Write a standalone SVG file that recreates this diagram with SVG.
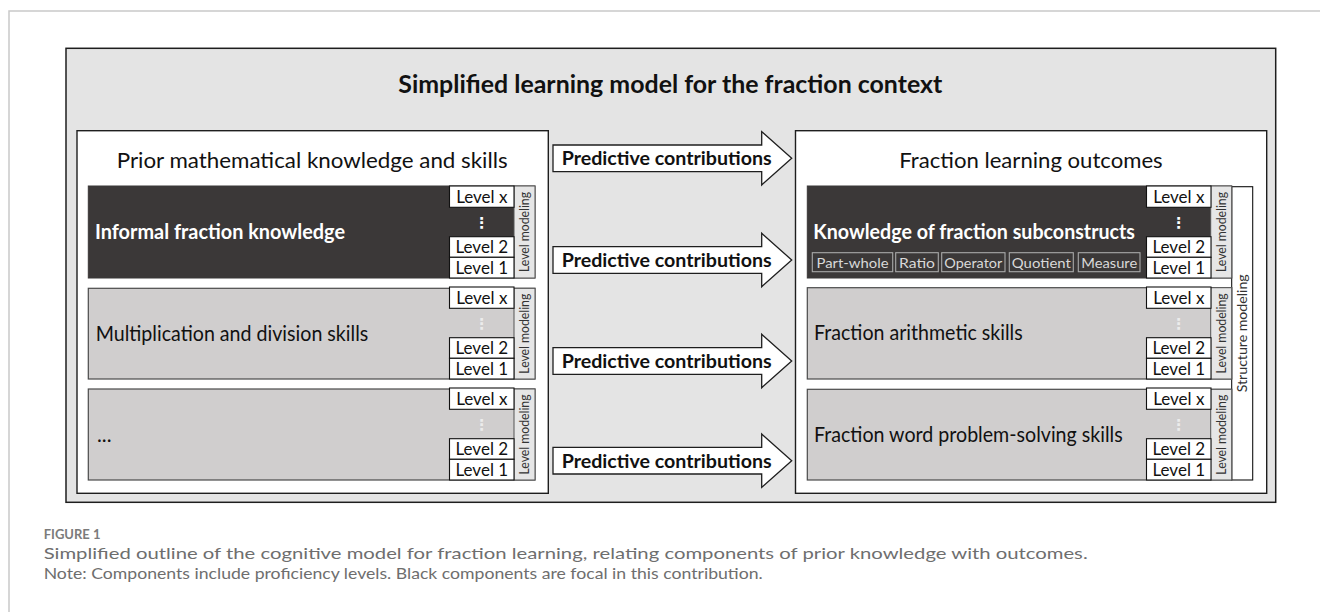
<svg xmlns="http://www.w3.org/2000/svg" width="1320" height="612" viewBox="0 0 1320 612">
  <style>
    .t { font-family: Lato, "Open Sans", "Liberation Sans", sans-serif; }
    .frame { fill: none; stroke: #c9c9c9; stroke-width: 1.5; }
    .outer { fill: #e4e4e4; stroke: #1e1e1e; stroke-width: 1.5; }
    .panel { fill: #ffffff; stroke: #1e1e1e; stroke-width: 1.4; }
    .dark { fill: #3b3838; stroke: #3b3838; stroke-width: 1; }
    .grey { fill: #d0cece; stroke: #4a4a4a; stroke-width: 1.2; }
    .lvl { fill: #ffffff; stroke: #111; stroke-width: 1.1; }
    .strip { fill: #e6e6e6; stroke: #555; stroke-width: 1; }
    .sstrip { fill: #ffffff; stroke: #111; stroke-width: 1.1; }
    .sub { fill: none; stroke: #a9a9a9; stroke-width: 1.1; }
    .arrow { fill: #ffffff; stroke: #1e1e1e; stroke-width: 1.3; stroke-linejoin: miter; }
    .title { font-size: 25px; font-weight: 700; fill: #111; }
    .head { font-size: 21.5px; fill: #111; }
    .lab { font-size: 20.5px; fill: #111; }
    .labw { font-size: 20.5px; font-weight: 700; fill: #ffffff; }
    .lv { font-size: 17px; fill: #111; text-anchor: middle; }
    .lm { font-size: 13.5px; fill: #333; text-anchor: middle; }
    .subt { font-size: 14px; fill: #d9d9d9; text-anchor: middle; }
    .dots { font-family: "DejaVu Sans", sans-serif; font-size: 15px; font-weight: 700; text-anchor: middle; }
    .pc { font-size: 18px; font-weight: 700; fill: #111; }
    .capH { font-size: 13px; font-weight: 700; fill: #7b7b7b; }
    .cap { font-size: 16px; fill: #6e6e6e; }
  </style>

  <defs>
    <!-- level ladder shared by every component: Level x / dots / Level 2 / Level 1, 92 px tall -->
    <g id="ladder">
      <rect class="lvl" x="0" y="0" width="64.5" height="21.3"/>
      <rect class="lvl" x="0" y="50.7" width="64.5" height="20.6"/>
      <rect class="lvl" x="0" y="71.3" width="64.5" height="20.7"/>
      <text class="t lv" x="32.3" y="17.4">Level x</text>
      <text class="t lv" x="32.3" y="67.4">Level 2</text>
      <text class="t lv" x="32.3" y="87.6">Level 1</text>
    </g>
    <!-- arrow body with head, centred on y = 0 -->
    <polygon id="arrowShape" class="arrow" points="553,-13.3 761.7,-13.3 761.7,-26.7 791.7,0 761.7,26.7 761.7,13.3 553,13.3"/>
  </defs>

  <!-- page frame -->
  <polyline class="frame" points="1320,11 9,11 9,612"/>

  <!-- container -->
  <g id="model">
    <rect class="outer" x="66" y="48.3" width="1209.7" height="454"/>
    <text class="t title" x="398.3" y="92.7" textLength="544" lengthAdjust="spacingAndGlyphs">Simplified learning model for the fraction context</text>
  </g>

  <!-- prior knowledge panel -->
  <g id="prior">
    <rect class="panel" x="77" y="130.7" width="471.3" height="362.6"/>
    <text class="t head" x="116.7" y="167.7" textLength="391" lengthAdjust="spacingAndGlyphs">Prior mathematical knowledge and skills</text>
  </g>

  <g id="informal">
    <rect class="dark" x="88.3" y="186" width="446.7" height="92"/>
    <rect class="strip" x="514" y="186" width="21" height="92"/>
    <use href="#ladder" x="449.5" y="186"/>
    <text class="dots" x="481.7" y="227.5" fill="#ffffff">⋮</text>
    <text class="t lm" transform="translate(529 232) rotate(-90)" textLength="80" lengthAdjust="spacingAndGlyphs">Level modeling</text>
    <text class="t labw" x="95" y="239.3" textLength="250" lengthAdjust="spacingAndGlyphs">Informal fraction knowledge</text>
  </g>

  <g id="multdiv">
    <rect class="grey" x="88.3" y="288.3" width="446.7" height="90.7"/>
    <rect class="strip" x="514" y="288.3" width="21" height="90.7"/>
    <use href="#ladder" x="449.5" y="287"/>
    <text class="dots" x="481.7" y="328.5" fill="#f4f4f4" opacity="0.8">⋮</text>
    <text class="t lm" transform="translate(529 333.7) rotate(-90)" textLength="80" lengthAdjust="spacingAndGlyphs">Level modeling</text>
    <text class="t lab" x="95.7" y="341" textLength="272.6" lengthAdjust="spacingAndGlyphs">Multiplication and division skills</text>
  </g>

  <g id="otherPrior">
    <rect class="grey" x="88.3" y="389" width="446.7" height="91"/>
    <rect class="strip" x="514" y="389" width="21" height="91"/>
    <use href="#ladder" x="449.5" y="388"/>
    <text class="dots" x="481.7" y="429.5" fill="#f4f4f4" opacity="0.8">⋮</text>
    <text class="t lm" transform="translate(529 434.5) rotate(-90)" textLength="80" lengthAdjust="spacingAndGlyphs">Level modeling</text>
    <text class="t lab" x="97" y="441.7">...</text>
  </g>

  <!-- outcomes panel -->
  <g id="outcomes">
    <rect class="panel" x="795.5" y="130.7" width="471.2" height="362.6"/>
    <text class="t head" x="899.3" y="168.3" textLength="263.4" lengthAdjust="spacingAndGlyphs">Fraction learning outcomes</text>
    <rect class="sstrip" x="1231.7" y="186.7" width="21" height="293.3"/>
    <text class="t lm" transform="translate(1246.7 333.3) rotate(-90)" textLength="118" lengthAdjust="spacingAndGlyphs">Structure modeling</text>
  </g>

  <g id="subconstructs">
    <rect class="dark" x="807.3" y="186" width="424.4" height="92"/>
    <rect class="strip" x="1210.7" y="186" width="21" height="92"/>
    <use href="#ladder" x="1146.5" y="186"/>
    <text class="dots" x="1178.8" y="227.5" fill="#ffffff">⋮</text>
    <text class="t lm" transform="translate(1225.7 232) rotate(-90)" textLength="80" lengthAdjust="spacingAndGlyphs">Level modeling</text>
    <text class="t labw" x="813.3" y="239" textLength="321.7" lengthAdjust="spacingAndGlyphs">Knowledge of fraction subconstructs</text>
    <rect class="sub" x="812.3" y="252.7" width="80.4" height="19"/>
    <rect class="sub" x="895.7" y="252.7" width="42.6" height="19"/>
    <rect class="sub" x="941.7" y="252.7" width="63.3" height="19"/>
    <rect class="sub" x="1009.3" y="252.7" width="64" height="19"/>
    <rect class="sub" x="1078.3" y="252.7" width="61.7" height="19"/>
    <text class="t subt" x="852.5" y="267.5" textLength="72" lengthAdjust="spacingAndGlyphs">Part-whole</text>
    <text class="t subt" x="917" y="267.5" textLength="36" lengthAdjust="spacingAndGlyphs">Ratio</text>
    <text class="t subt" x="973.3" y="267.5" textLength="58" lengthAdjust="spacingAndGlyphs">Operator</text>
    <text class="t subt" x="1041.3" y="267.5" textLength="59" lengthAdjust="spacingAndGlyphs">Quotient</text>
    <text class="t subt" x="1109.2" y="267.5" textLength="56" lengthAdjust="spacingAndGlyphs">Measure</text>
  </g>

  <g id="arithmetic">
    <rect class="grey" x="807.3" y="287.7" width="424.4" height="91.3"/>
    <rect class="strip" x="1210.7" y="287.7" width="21" height="91.3"/>
    <use href="#ladder" x="1146.5" y="287"/>
    <text class="dots" x="1178.8" y="328.5" fill="#f4f4f4" opacity="0.8">⋮</text>
    <text class="t lm" transform="translate(1225.7 333.4) rotate(-90)" textLength="80" lengthAdjust="spacingAndGlyphs">Level modeling</text>
    <text class="t lab" x="814" y="340" textLength="208.7" lengthAdjust="spacingAndGlyphs">Fraction arithmetic skills</text>
  </g>

  <g id="wordProblems">
    <rect class="grey" x="807.3" y="389.3" width="424.4" height="90.7"/>
    <rect class="strip" x="1210.7" y="389.3" width="21" height="90.7"/>
    <use href="#ladder" x="1146.5" y="388"/>
    <text class="dots" x="1178.8" y="429.5" fill="#f4f4f4" opacity="0.8">⋮</text>
    <text class="t lm" transform="translate(1225.7 434.7) rotate(-90)" textLength="80" lengthAdjust="spacingAndGlyphs">Level modeling</text>
    <text class="t lab" x="814" y="441.7" textLength="308.7" lengthAdjust="spacingAndGlyphs">Fraction word problem-solving skills</text>
  </g>

  <!-- predictive links between the two panels -->
  <g id="connectors">
    <use href="#arrowShape" x="0" y="158.3"/>
    <text class="t pc" x="561.7" y="164.7" textLength="210" lengthAdjust="spacingAndGlyphs">Predictive contributions</text>
    <use href="#arrowShape" x="0" y="260"/>
    <text class="t pc" x="561.7" y="266.7" textLength="210" lengthAdjust="spacingAndGlyphs">Predictive contributions</text>
    <use href="#arrowShape" x="0" y="361"/>
    <text class="t pc" x="561.7" y="367.7" textLength="210" lengthAdjust="spacingAndGlyphs">Predictive contributions</text>
    <use href="#arrowShape" x="0" y="460.7"/>
    <text class="t pc" x="561.7" y="467.7" textLength="210" lengthAdjust="spacingAndGlyphs">Predictive contributions</text>
  </g>

  <!-- caption -->
  <g id="caption">
    <text class="t capH" x="43.7" y="539">FIGURE 1</text>
    <text class="t cap" x="43.7" y="559" textLength="1044" lengthAdjust="spacingAndGlyphs">Simplified outline of the cognitive model for fraction learning, relating components of prior knowledge with outcomes.</text>
    <text class="t cap" x="43.7" y="579" textLength="719" lengthAdjust="spacingAndGlyphs">Note: Components include proficiency levels. Black components are focal in this contribution.</text>
  </g>
</svg>
